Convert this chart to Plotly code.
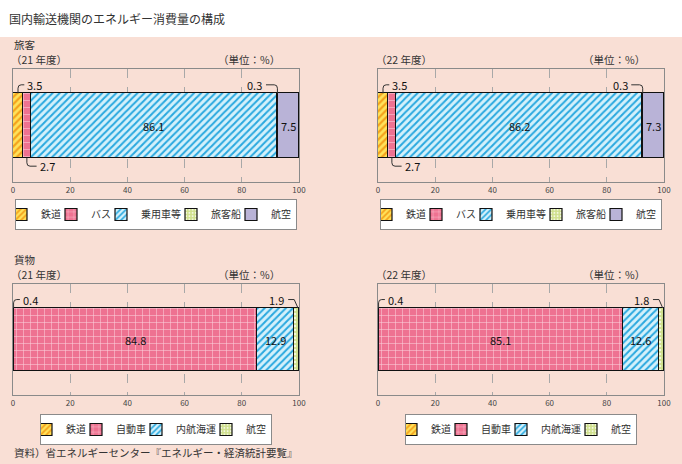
import plotly.graph_objects as go

W, H = 682, 464

# ---------------- data ----------------
pass_cats = ["鉄道", "バス", "乗用車等", "旅客船", "航空"]
pass_21 = [3.5, 2.7, 86.1, 0.3, 7.5]
pass_22 = [3.5, 2.7, 86.2, 0.3, 7.3]

frt_cats = ["鉄道", "自動車", "内航海運", "航空"]
frt_21 = [0.4, 84.8, 12.9, 1.9]
frt_22 = [0.4, 85.1, 12.6, 1.8]

x_ticks = [0, 20, 40, 60, 80, 100]

title_text = "国内輸送機関のエネルギー消費量の構成"
source_text = "資料）省エネルギーセンター『エネルギー・経済統計要覧』"

# ---------------- styles ----------------
FONT = "Noto Sans CJK JP"
PINK_BG = "#f9dfd5"

rail = dict(bg="#ffe25a", fg="#f4a21c", shape="/", size=5, sol=0.45)
road = dict(bg="#ee7291", fg="#fbd0da", shape="+", size=7, sol=0.15)
car = dict(bg="#d4f1fb", fg="#29a8df", shape="/", size=5, sol=0.4)
ship_green = dict(bg="#cfe08c", fg="#f4f8e0", shape=".", size=4, sol=0.3)
air_purple = dict(bg="#b9b3d7", fg="#b9b3d7", shape="", size=5, sol=0.3)

pass_styles = [rail, road, car, ship_green, air_purple]
frt_styles = [rail, road, car, ship_green]

pass_callouts = [(0, "lt"), (1, "lb"), (3, "rt")]
frt_callouts = [(0, "lt"), (3, "rt2")]

def px(v):
    return v / W

def py(v):
    return 1 - v / H

XD_L = [px(13), px(299)]
XD_R = [px(378), px(664)]
YD_T = [py(182), py(69)]
YD_B = [py(395), py(284)]

BAR_W = 1.14
HALF = BAR_W / 2

panels = [
    dict(vals=pass_21, cats=pass_cats, styles=pass_styles, callouts=pass_callouts,
         xd=XD_L, yd=YD_T, legend="legend", year="（21 年度）", top=69),
    dict(vals=pass_22, cats=pass_cats, styles=pass_styles, callouts=pass_callouts,
         xd=XD_R, yd=YD_T, legend="legend2", year="（22 年度）", top=69),
    dict(vals=frt_21, cats=frt_cats, styles=frt_styles, callouts=frt_callouts,
         xd=XD_L, yd=YD_B, legend="legend3", year="（21 年度）", top=284),
    dict(vals=frt_22, cats=frt_cats, styles=frt_styles, callouts=frt_callouts,
         xd=XD_R, yd=YD_B, legend="legend4", year="（22 年度）", top=284),
]

fig = go.Figure()
annotations = []
shapes = []

shapes.append(dict(type="rect", xref="paper", yref="paper", x0=0, x1=1, y0=0, y1=py(37),
                   fillcolor=PINK_BG, line=dict(width=0), layer="below"))

for k, p in enumerate(panels, start=1):
    xa = "x" if k == 1 else f"x{k}"
    ya = "y" if k == 1 else f"y{k}"
    for cat, v, st in zip(p["cats"], p["vals"], p["styles"]):
        pattern = dict(shape=st["shape"], fillmode="replace", bgcolor=st["bg"],
                       fgcolor=st["fg"], size=st["size"], solidity=st["sol"])
        fig.add_trace(go.Bar(
            x=[v], y=[0], orientation="h", name=cat, width=BAR_W,
            marker=dict(color=st["bg"], pattern=pattern,
                        line=dict(color="#111111", width=1.2)),
            xaxis=xa, yaxis=ya, legend=p["legend"], showlegend=True,
            hoverinfo="skip"))

    starts = []
    s = 0
    for v in p["vals"]:
        starts.append(s)
        s += v
    callout_idx = {i: side for i, side in p["callouts"]}
    ylab = HALF + 0.15
    r_x = 1.1
    r_y = 0.06
    for i, v in enumerate(p["vals"]):
        c = starts[i] + v / 2
        if i not in callout_idx:
            annotations.append(dict(xref=xa, yref=ya, x=c, y=0, text=f"{v}", showarrow=False,
                                    font=dict(size=11, color="#111", family=FONT)))
            continue
        side = callout_idx[i]
        if side == "lt":
            xs = c
            xe = xs + 2.2
            path = (f"M {xs},{HALF} L {xs},{ylab - r_y} Q {xs},{ylab} {xs + r_x},{ylab} "
                    f"L {xe},{ylab}")
            annotations.append(dict(xref=xa, yref=ya, x=xe + 0.4, y=ylab, text=f"{v}",
                                    xanchor="left", showarrow=False,
                                    font=dict(size=11, color="#111", family=FONT)))
        elif side == "lb":
            xs = c
            xe = xs + 3.4
            yl = -ylab
            path = (f"M {xs},{-HALF} L {xs},{yl + r_y} Q {xs},{yl} {xs + r_x},{yl} "
                    f"L {xe},{yl}")
            annotations.append(dict(xref=xa, yref=ya, x=xe + 0.4, y=yl, text=f"{v}",
                                    xanchor="left", showarrow=False,
                                    font=dict(size=11, color="#111", family=FONT)))
        elif side == "rt":
            xs = c
            xe = xs - 4.0
            path = (f"M {xs},{HALF} L {xs},{ylab - r_y} Q {xs},{ylab} {xs - r_x},{ylab} "
                    f"L {xe},{ylab}")
            annotations.append(dict(xref=xa, yref=ya, x=xe - 0.6, y=ylab, text=f"{v}",
                                    xanchor="right", showarrow=False,
                                    font=dict(size=11, color="#111", family=FONT)))
        else:
            xs = starts[i] + v * 0.8
            xm = xs - 1.3
            xe = xm - 2.1
            path = f"M {xs},{HALF} L {xm},{ylab} L {xe},{ylab}"
            annotations.append(dict(xref=xa, yref=ya, x=xe - 0.6, y=ylab, text=f"{v}",
                                    xanchor="right", showarrow=False,
                                    font=dict(size=11, color="#111", family=FONT)))
        shapes.append(dict(type="path", xref=xa, yref=ya, path=path,
                           line=dict(color="#333", width=1)))

    xkey = "xaxis" if k == 1 else f"xaxis{k}"
    ykey = "yaxis" if k == 1 else f"yaxis{k}"
    fig.update_layout(**{
        xkey: dict(domain=p["xd"], anchor=ya, range=[0, 100], tickvals=x_ticks,
                   showgrid=True, gridcolor="#a8a8a8", griddash="dash", gridwidth=1,
                   showline=True, mirror=True, linecolor="#8a8a8a", linewidth=1,
                   zeroline=False, ticks="", fixedrange=True,
                   tickfont=dict(size=8, color="#444", family=FONT)),
        ykey: dict(domain=p["yd"], anchor=xa, range=[-1, 1], showgrid=False,
                   showticklabels=False, zeroline=False, showline=True, mirror=True,
                   linecolor="#8a8a8a", linewidth=1, fixedrange=True),
    })

    xl = p["xd"][0] * W
    xr = p["xd"][1] * W
    annotations.append(dict(xref="paper", yref="paper", x=px(xl - 4), y=py(p["top"] - 10),
                            text=p["year"], xanchor="left", yanchor="middle", showarrow=False,
                            font=dict(size=10.5, color="#333", family=FONT)))
    annotations.append(dict(xref="paper", yref="paper", x=px(xr - 17), y=py(p["top"] - 10),
                            text="（単位：%）", xanchor="right", yanchor="middle", showarrow=False,
                            font=dict(size=10.5, color="#333", family=FONT)))

    fig.update_layout(**{p["legend"]: dict(
        orientation="h", x=(xl + xr) / 2 / W, xanchor="center",
        y=py(p["top"] + 130), yanchor="top",
        bgcolor="white", bordercolor="#8a8a8a", borderwidth=1,
        font=dict(size=10, color="#333", family=FONT),
        itemwidth=30, indentation=-15, traceorder="normal",
        itemclick=False, itemdoubleclick=False)})

annotations.append(dict(xref="paper", yref="paper", x=px(7), y=py(18), text=title_text,
                        xanchor="left", yanchor="middle", showarrow=False,
                        font=dict(size=12, color="#333", family=FONT)))
annotations.append(dict(xref="paper", yref="paper", x=px(12), y=py(44), text="旅客",
                        xanchor="left", yanchor="middle", showarrow=False,
                        font=dict(size=10.5, color="#333", family=FONT)))
annotations.append(dict(xref="paper", yref="paper", x=px(12), y=py(259), text="貨物",
                        xanchor="left", yanchor="middle", showarrow=False,
                        font=dict(size=10.5, color="#333", family=FONT)))
annotations.append(dict(xref="paper", yref="paper", x=px(12), y=py(452), text=source_text,
                        xanchor="left", yanchor="middle", showarrow=False,
                        font=dict(size=10.5, color="#333", family=FONT)))

fig.update_layout(
    width=W, height=H, margin=dict(l=0, r=0, t=0, b=0, autoexpand=False),
    paper_bgcolor="white", plot_bgcolor="white",
    barmode="stack", bargap=0,
    annotations=annotations, shapes=shapes,
    font=dict(family=FONT),
)

fig.write_html("out.html")
